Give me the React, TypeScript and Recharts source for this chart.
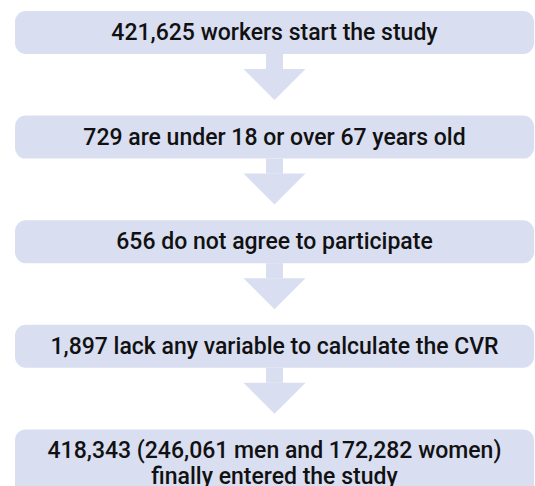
import { BarChart, Bar, XAxis, YAxis } from "recharts";

// flow steps of the cohort, top to bottom
const STEPS = ["start", "age", "consent", "cvr", "final"];
const COUNTS = [421625, 729, 656, 1897, 418343];
const LABELS = [
  ["421,625 workers start the study"],
  ["729 are under 18 or over 67 years old"],
  ["656 do not agree to participate"],
  ["1,897 lack any variable to calculate the CVR"],
  ["418,343 (246,061 men and 172,282 women)", "finally entered the study"],
];

const FILL = "#D9DEF1";

const data = STEPS.map((step, i) => ({
  step,
  count: COUNTS[i],
  lines: LABELS[i],
  box: 1,
}));

function StepBox(props: any) {
  const { x, y, width, height, index, payload } = props;
  const lines: string[] = payload.lines;
  const multi = lines.length > 1;
  const boxH = multi ? height + 32 : height;
  const cx = x + width / 2;
  const bottom = y + height;
  return (
    <g>
      <rect x={x} y={y} width={width} height={boxH} rx={11} ry={11} fill={FILL} />
      {lines.map((t, i) => (
        <text
          key={i}
          x={cx}
          y={multi ? y + 21 + i * 26 : y + height / 2}
          textAnchor="middle"
          dominantBaseline="central"
          fontFamily="Roboto, 'Liberation Sans', Arial, sans-serif"
          fontWeight={500}
          fontSize={23}
          fill="#111"
        >
          {t}
        </text>
      ))}
      {index < STEPS.length - 1 && (
        <g fill={FILL}>
          <rect x={cx - 8.5} y={bottom} width={17} height={15} />
          <polygon points={`${cx - 31},${bottom + 15} ${cx + 31},${bottom + 15} ${cx},${bottom + 46}`} />
        </g>
      )}
    </g>
  );
}

export default function App() {
  return (
    <div style={{ position: "absolute", left: 0, top: 0 }}>
      <style>{"body{margin:0;overflow:hidden}"}</style>
      <BarChart
        width={535}
        height={486}
        data={data}
        layout="vertical"
        margin={{ top: -20, bottom: -17, left: 15, right: 1 }}
      >
        <XAxis type="number" domain={[0, 1]} hide />
        <YAxis type="category" dataKey="step" hide />
        <Bar dataKey="box" barSize={43} shape={StepBox} isAnimationActive={false} />
      </BarChart>
    </div>
  );
}
